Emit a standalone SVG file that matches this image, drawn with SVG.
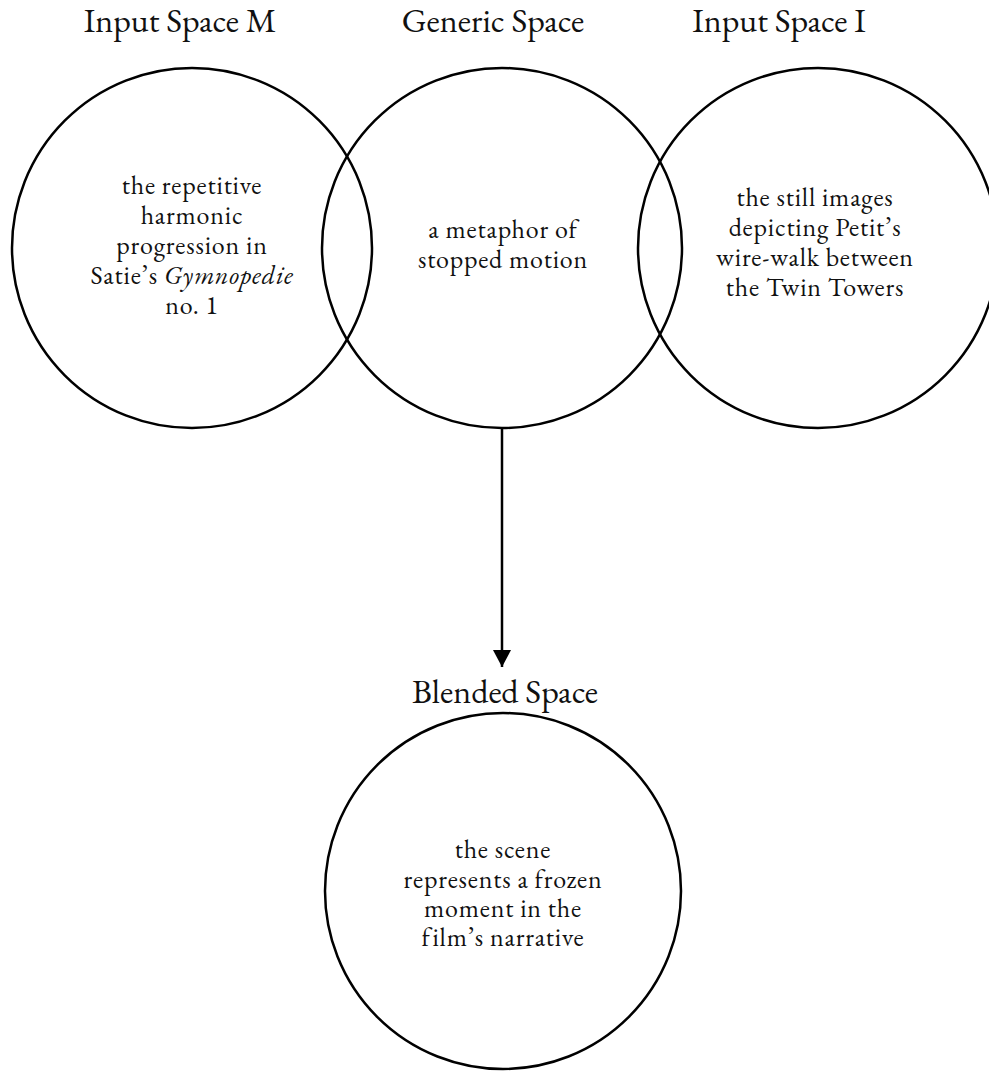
<svg xmlns="http://www.w3.org/2000/svg" width="989" height="1074" viewBox="0 0 989 1074">
<defs>
<style>
.c{fill:none;stroke:#000;stroke-width:2.5}
.t{font-family:"EB Garamond","Liberation Serif","Times New Roman",serif;fill:#111;text-anchor:middle}
.h{font-size:34px}
.b{font-size:26px;letter-spacing:0.8px}
</style>
<marker id="ah" markerWidth="18" markerHeight="18" refX="17" refY="9" orient="auto" markerUnits="userSpaceOnUse" viewBox="0 0 18 18">
<path d="M0,0 L17,9 L0,18 Z" fill="#000"/>
</marker>
</defs>
<rect width="989" height="1074" fill="#fff"/>
<g id="input-m">
<circle class="c" cx="192" cy="248" r="180"/>
<text class="t h" x="180" y="32">Input Space M</text>
<text class="t b" x="192" y="194">the repetitive</text>
<text class="t b" x="192" y="224">harmonic</text>
<text class="t b" x="192" y="254">progression in</text>
<text class="t b" x="192" y="284">Satie’s <tspan font-style="italic">Gymnopedie</tspan></text>
<text class="t b" x="192" y="314">no. 1</text>
</g>
<g id="generic">
<circle class="c" cx="502" cy="248" r="180"/>
<text class="t h" x="493" y="32">Generic Space</text>
<text class="t b" x="503" y="238">a metaphor of</text>
<text class="t b" x="503" y="268">stopped motion</text>
</g>
<g id="input-i">
<circle class="c" cx="818" cy="248" r="180"/>
<text class="t h" x="779" y="32">Input Space I</text>
<text class="t b" x="815" y="206">the still images</text>
<text class="t b" x="815" y="236">depicting Petit’s</text>
<text class="t b" x="815" y="266">wire-walk between</text>
<text class="t b" x="815" y="296">the Twin Towers</text>
</g>
<g id="blended">
<circle class="c" cx="503" cy="891" r="178"/>
<text class="t h" x="505" y="703">Blended Space</text>
<text class="t b" x="503" y="858">the scene</text>
<text class="t b" x="503" y="888">represents a frozen</text>
<text class="t b" x="503" y="917">moment in the</text>
<text class="t b" x="503" y="946">film’s narrative</text>
</g>
<g id="connectors">
<line x1="502" y1="428" x2="502" y2="667" stroke="#000" stroke-width="2.5" marker-end="url(#ah)"/>
</g>
</svg>
